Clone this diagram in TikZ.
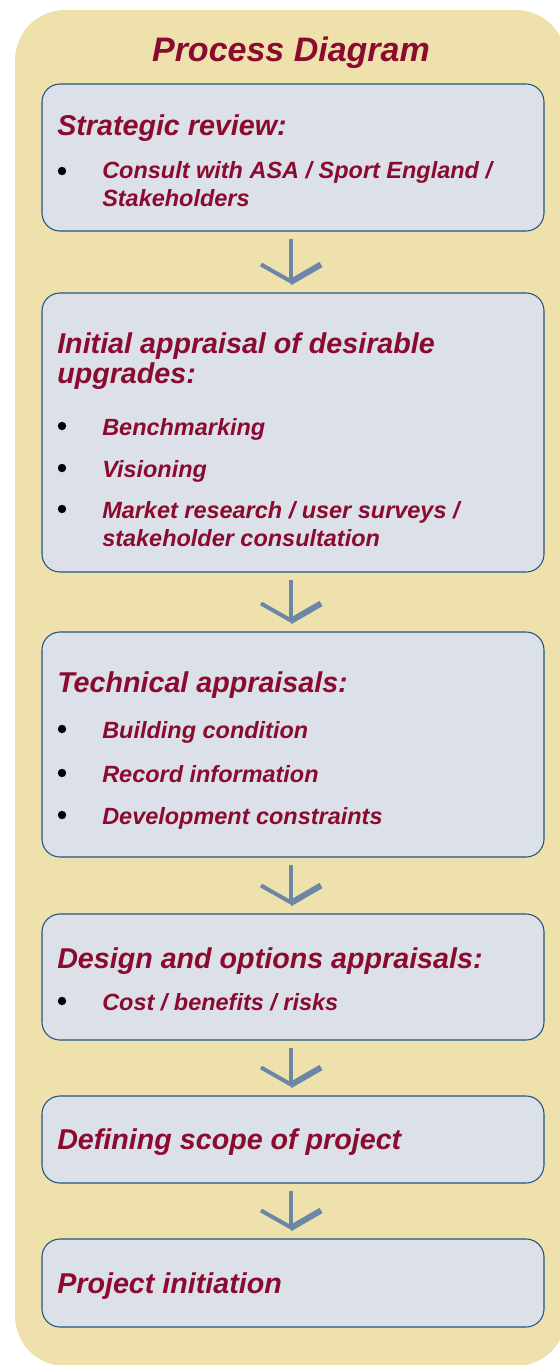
\documentclass[tikz,border=0pt]{standalone}
\usepackage{fontspec}
\setmainfont{Liberation Sans}
\usetikzlibrary{calc,fit}
\definecolor{bgyellow}{RGB}{238,225,172}
\definecolor{boxgrey}{RGB}{220,224,233}
\definecolor{boxline}{RGB}{34,84,124}
\definecolor{maroon}{RGB}{139,10,48}
\definecolor{arrowblue}{RGB}{108,134,168}

\begin{document}
\begin{tikzpicture}[x=0.75pt,y=-0.75pt,
  stepbox/.style={draw=boxline, line width=0.8pt, fill=boxgrey, rounded corners=13.5pt, inner sep=0pt},
  heading/.style={anchor=base west, inner sep=0pt, text=maroon, align=left,
    font=\fontsize{21.5}{22.5}\selectfont\bfseries\itshape},
  itemtext/.style={anchor=base west, inner sep=0pt, text=maroon, align=left,
    font=\fontsize{17.6}{20.5}\selectfont\bfseries\itshape},
  bulletdot/.style={circle, fill=black, inner sep=0pt, minimum size=6.3pt},
  flowline/.style={draw=arrowblue}]
\useasboundingbox (0,0) rectangle (560,1365);
% background panel
\fill[bgyellow, rounded corners=37.5pt] (15,10) rectangle (566,1366);
\node[anchor=base, inner sep=0pt, text=maroon, font=\fontsize{25.5}{27}\selectfont\bfseries\itshape] (title) at (291,61) {Process Diagram};

% boxes
\node[stepbox, fit={(42,84) (544,231)}] (b1) {};
\node[stepbox, fit={(42,293) (544,572)}] (b2) {};
\node[stepbox, fit={(42,632) (544,857)}] (b3) {};
\node[stepbox, fit={(42,914) (544,1040)}] (b4) {};
\node[stepbox, fit={(42,1096) (544,1183)}] (b5) {};
\node[stepbox, fit={(42,1239) (544,1327)}] (b6) {};

% texts (base = last line)
\node[heading] (h1) at (57,135) {Strategic review:};
\node[bulletdot] (d1a) at (62,171) {};
\node[itemtext] (t1a) at (102,206) {Consult with ASA / Sport England /\\Stakeholders};

\node[heading] (h2) at (57,383) {Initial appraisal of desirable\\upgrades:};
\node[bulletdot] (d2a) at (62,426) {};
\node[itemtext] (t2a) at (102,435) {Benchmarking};
\node[bulletdot] (d2b) at (62,468) {};
\node[itemtext] (t2b) at (102,477) {Visioning};
\node[bulletdot] (d2c) at (62,509) {};
\node[itemtext] (t2c) at (102,546) {Market research / user surveys /\\stakeholder consultation};

\node[heading] (h3) at (57,692) {Technical appraisals:};
\node[bulletdot] (d3a) at (62,729) {};
\node[itemtext] (t3a) at (102,738) {Building condition};
\node[bulletdot] (d3b) at (62,773) {};
\node[itemtext] (t3b) at (102,782) {Record information};
\node[bulletdot] (d3c) at (62,815) {};
\node[itemtext] (t3c) at (102,824) {Development constraints};

\node[heading] (h4) at (57,968) {Design and options appraisals:};
\node[bulletdot] (d4a) at (62,1001) {};
\node[itemtext] (t4a) at (102,1010) {Cost / benefits / risks};

\node[heading] (h5) at (57,1149) {Defining scope of project};

\node[heading] (h6) at (57,1293) {Project initiation};

% arrows between boxes
\foreach \a/\b in {b1/b2,b2/b3,b3/b4,b4/b5,b5/b6}{
  \draw[flowline, line width=2.5pt] ($(\a.south)+(-2,7)$) -- ($(\b.north)+(-2,-11)$) coordinate (tip);
  \draw[flowline, line width=3pt] ($(tip)+(-30,-17)$) -- (tip);
  \draw[flowline, line width=4.5pt] ($(tip)+(-1,1)$) -- ($(tip)+(30,-17)$);
}
\end{tikzpicture}
\end{document}
